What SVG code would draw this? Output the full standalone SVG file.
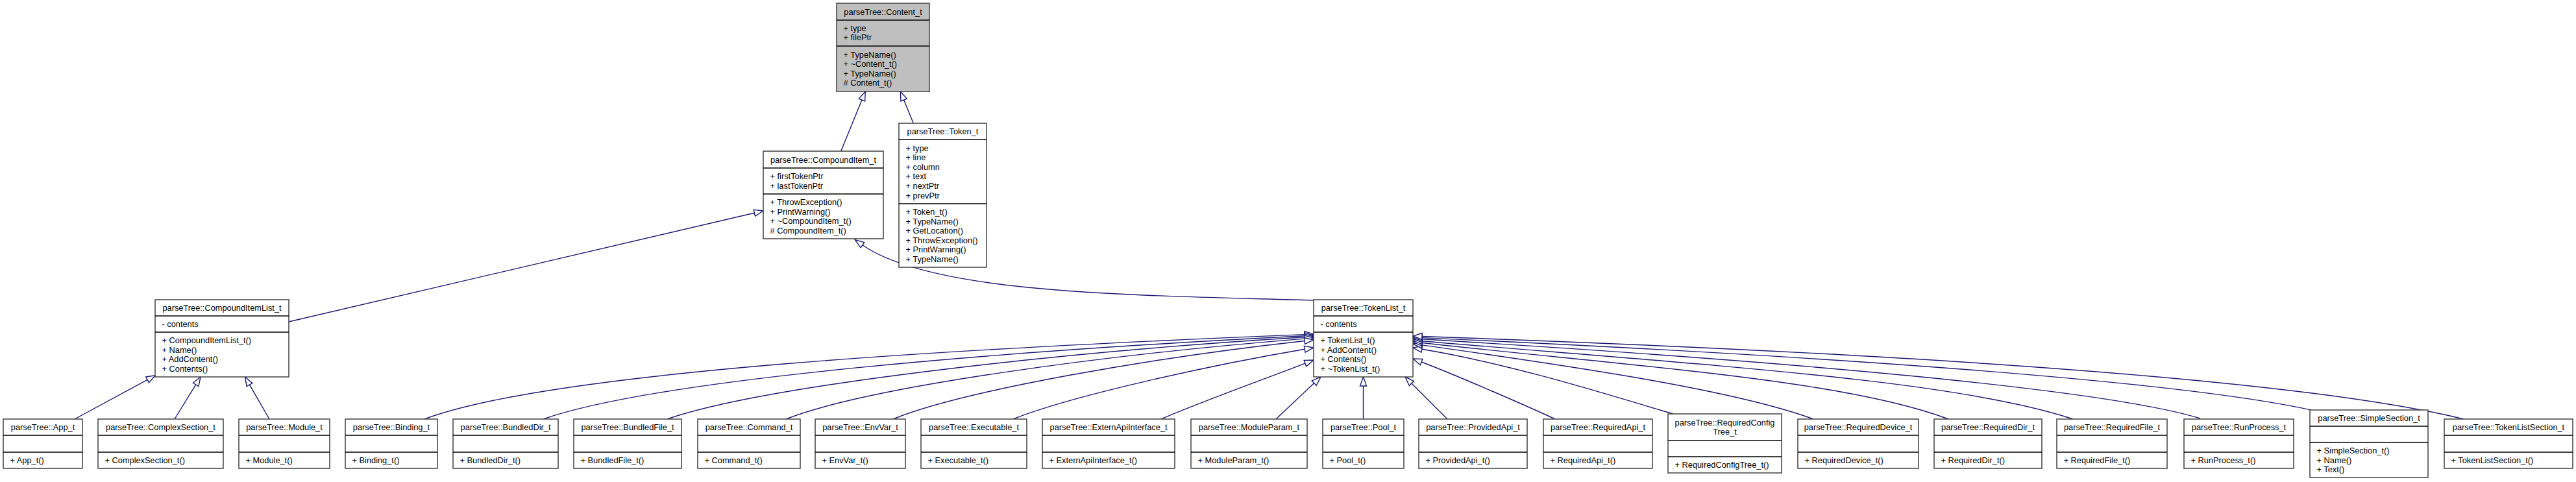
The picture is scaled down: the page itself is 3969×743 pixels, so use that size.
<svg xmlns="http://www.w3.org/2000/svg" width="3969" height="743" viewBox="0 0 3969 743">
<style>
.b{fill:#fff;stroke:#404040;stroke-width:1.5}
.g{fill:#bfbfbf;stroke:#404040;stroke-width:1.5}
.s{stroke:#000;stroke-width:1.3}
text{font-family:"Liberation Sans",Arial,Helvetica,sans-serif;font-size:12.8px;fill:#000}
.t{text-anchor:middle}
.e{fill:none;stroke:#191970;stroke-width:1.4;marker-end:url(#tri)}
</style>
<defs>
<marker id="tri" markerUnits="userSpaceOnUse" markerWidth="18" markerHeight="14" viewBox="-1 -7 18 14" refX="0" refY="0" orient="auto" overflow="visible">
<path d="M0,-5 L14,0 L0,5 Z" fill="#fff" stroke="#191970" stroke-width="1.4"/>
</marker>
</defs>
<rect width="3969" height="743" fill="#fff"/>

<g id="connectors">
<path class="e" d="M1295.7,233 L1328,154"/>
<path class="e" d="M1407.3,190 L1392.6,154"/>
<path class="e" d="M445,496 L1162.4,328.2"/>
<path class="e" d="M2026,463 C1760,455 1440,455 1328.9,377.8"/>
<path class="e" d="M115,646 L227.1,585.4"/>
<path class="e" d="M269,646 L301.7,592.9"/>
<path class="e" d="M415,646 L384.5,593.1"/>
<path class="e" d="M654,646 C854,570.6 1510,535.6 2010,515.6"/>
<path class="e" d="M837,646 C1017,583 1560.5,540.2 2010,517.7"/>
<path class="e" d="M1028,646 C1178,594 1630.7,542.6 2010,519.8"/>
<path class="e" d="M1211,646 C1341,595 1711,546 2010,522.1"/>
<path class="e" d="M1376,646 C1486,601 1781.5,550.6 2010.1,525.5"/>
<path class="e" d="M1561,646 C1651,610 1862.3,563.5 2010.2,538.3"/>
<path class="e" d="M1789,646 C1849,620 1955,581.8 2010.9,560.1"/>
<path class="e" d="M1966,646 L2024.8,590.6"/>
<path class="e" d="M2100.5,646 L2100.5,595"/>
<path class="e" d="M2230,646 L2174.9,590.9"/>
<path class="e" d="M2396,646 C2356,627.4 2246.2,579.3 2190.1,558"/>
<path class="e" d="M2578,638 C2498,615 2338.7,562.9 2190.8,538.3"/>
<path class="e" d="M2794,646 C2674,602 2438.5,566.7 2190.9,531.9"/>
<path class="e" d="M3002,646 C2842,586 2538.8,566.8 2190.9,528.5"/>
<path class="e" d="M3194,646 C3014,586 2639.4,563.8 2191,525.7"/>
<path class="e" d="M3390,645 C3240,599 2740,555.8 2191,522.8"/>
<path class="e" d="M3561,632 C3360,588 2840.4,549.9 2191,520.6"/>
<path class="e" d="M3796,646 C3546,585 2940.5,544.7 2191,518.5"/>
</g>

<g id="Content_t">
<rect class="g" x="1289" y="5" width="143" height="136"/>
<line class="s" x1="1289" y1="31" x2="1432" y2="31"/>
<line class="s" x1="1289" y1="71" x2="1432" y2="71"/>
<text class="t" x="1360.5" y="22.5">parseTree::Content_t</text>
<text x="1299.5" y="47.5">+ type</text>
<text x="1299.5" y="62.1">+ filePtr</text>
<text x="1299.5" y="88.6">+ TypeName()</text>
<text x="1299.5" y="103.2">+ ~Content_t()</text>
<text x="1299.5" y="117.8">+ TypeName()</text>
<text x="1299.5" y="132.4"># Content_t()</text>
</g>

<g id="CompoundItem_t">
<rect class="b" x="1176" y="233" width="185" height="135"/>
<line class="s" x1="1176" y1="259" x2="1361" y2="259"/>
<line class="s" x1="1176" y1="299" x2="1361" y2="299"/>
<text class="t" x="1268.5" y="250.5">parseTree::CompoundItem_t</text>
<text x="1186.5" y="276.2">+ firstTokenPtr</text>
<text x="1186.5" y="290.8">+ lastTokenPtr</text>
<text x="1186.5" y="316.1">+ ThrowException()</text>
<text x="1186.5" y="330.7">+ PrintWarning()</text>
<text x="1186.5" y="345.3">+ ~CompoundItem_t()</text>
<text x="1186.5" y="359.9"># CompoundItem_t()</text>
</g>

<g id="Token_t">
<rect class="b" x="1385" y="190" width="135" height="222"/>
<line class="s" x1="1385" y1="215" x2="1520" y2="215"/>
<line class="s" x1="1385" y1="314" x2="1520" y2="314"/>
<text class="t" x="1452.5" y="207">parseTree::Token_t</text>
<text x="1395.5" y="232.5">+ type</text>
<text x="1395.5" y="247.1">+ line</text>
<text x="1395.5" y="261.7">+ column</text>
<text x="1395.5" y="276.3">+ text</text>
<text x="1395.5" y="290.9">+ nextPtr</text>
<text x="1395.5" y="305.5">+ prevPtr</text>
<text x="1395.5" y="331">+ Token_t()</text>
<text x="1395.5" y="345.6">+ TypeName()</text>
<text x="1395.5" y="360.2">+ GetLocation()</text>
<text x="1395.5" y="374.8">+ ThrowException()</text>
<text x="1395.5" y="389.4">+ PrintWarning()</text>
<text x="1395.5" y="404">+ TypeName()</text>
</g>

<g id="CompoundItemList_t">
<rect class="b" x="239" y="462" width="206" height="119"/>
<line class="s" x1="239" y1="487" x2="445" y2="487"/>
<line class="s" x1="239" y1="512" x2="445" y2="512"/>
<text class="t" x="342" y="479">parseTree::CompoundItemList_t</text>
<text x="249.5" y="504">- contents</text>
<text x="249.5" y="529.1">+ CompoundItemList_t()</text>
<text x="249.5" y="543.7">+ Name()</text>
<text x="249.5" y="558.3">+ AddContent()</text>
<text x="249.5" y="572.9">+ Contents()</text>
</g>

<g id="TokenList_t">
<rect class="b" x="2024" y="462" width="153" height="119"/>
<line class="s" x1="2024" y1="487" x2="2177" y2="487"/>
<line class="s" x1="2024" y1="512" x2="2177" y2="512"/>
<text class="t" x="2100.5" y="479">parseTree::TokenList_t</text>
<text x="2034.5" y="504">- contents</text>
<text x="2034.5" y="529.1">+ TokenList_t()</text>
<text x="2034.5" y="543.7">+ AddContent()</text>
<text x="2034.5" y="558.3">+ Contents()</text>
<text x="2034.5" y="572.9">+ ~TokenList_t()</text>
</g>

<g id="App_t">
<rect class="b" x="5" y="646" width="122" height="76"/>
<line class="s" x1="5" y1="671" x2="127" y2="671"/><line class="s" x1="5" y1="697" x2="127" y2="697"/>
<text class="t" x="66" y="663">parseTree::App_t</text>
<text x="15.5" y="714">+ App_t()</text>
</g>

<g id="ComplexSection_t">
<rect class="b" x="151" y="646" width="193" height="76"/>
<line class="s" x1="151" y1="671" x2="344" y2="671"/><line class="s" x1="151" y1="697" x2="344" y2="697"/>
<text class="t" x="247.5" y="663">parseTree::ComplexSection_t</text>
<text x="161.5" y="714">+ ComplexSection_t()</text>
</g>

<g id="Module_t">
<rect class="b" x="368" y="646" width="140" height="76"/>
<line class="s" x1="368" y1="671" x2="508" y2="671"/><line class="s" x1="368" y1="697" x2="508" y2="697"/>
<text class="t" x="438" y="663">parseTree::Module_t</text>
<text x="378.5" y="714">+ Module_t()</text>
</g>

<g id="Binding_t">
<rect class="b" x="532" y="646" width="142" height="76"/>
<line class="s" x1="532" y1="671" x2="674" y2="671"/><line class="s" x1="532" y1="697" x2="674" y2="697"/>
<text class="t" x="603" y="663">parseTree::Binding_t</text>
<text x="542.5" y="714">+ Binding_t()</text>
</g>

<g id="BundledDir_t">
<rect class="b" x="698" y="646" width="162" height="76"/>
<line class="s" x1="698" y1="671" x2="860" y2="671"/><line class="s" x1="698" y1="697" x2="860" y2="697"/>
<text class="t" x="779" y="663">parseTree::BundledDir_t</text>
<text x="708.5" y="714">+ BundledDir_t()</text>
</g>

<g id="BundledFile_t">
<rect class="b" x="884" y="646" width="166" height="76"/>
<line class="s" x1="884" y1="671" x2="1050" y2="671"/><line class="s" x1="884" y1="697" x2="1050" y2="697"/>
<text class="t" x="967" y="663">parseTree::BundledFile_t</text>
<text x="894.5" y="714">+ BundledFile_t()</text>
</g>

<g id="Command_t">
<rect class="b" x="1075" y="646" width="158" height="76"/>
<line class="s" x1="1075" y1="671" x2="1233" y2="671"/><line class="s" x1="1075" y1="697" x2="1233" y2="697"/>
<text class="t" x="1154" y="663">parseTree::Command_t</text>
<text x="1085.5" y="714">+ Command_t()</text>
</g>

<g id="EnvVar_t">
<rect class="b" x="1256" y="646" width="139" height="76"/>
<line class="s" x1="1256" y1="671" x2="1395" y2="671"/><line class="s" x1="1256" y1="697" x2="1395" y2="697"/>
<text class="t" x="1325.5" y="663">parseTree::EnvVar_t</text>
<text x="1266.5" y="714">+ EnvVar_t()</text>
</g>

<g id="Executable_t">
<rect class="b" x="1419" y="646" width="163" height="76"/>
<line class="s" x1="1419" y1="671" x2="1582" y2="671"/><line class="s" x1="1419" y1="697" x2="1582" y2="697"/>
<text class="t" x="1500.5" y="663">parseTree::Executable_t</text>
<text x="1429.5" y="714">+ Executable_t()</text>
</g>

<g id="ExternApiInterface_t">
<rect class="b" x="1606" y="646" width="204" height="76"/>
<line class="s" x1="1606" y1="671" x2="1810" y2="671"/><line class="s" x1="1606" y1="697" x2="1810" y2="697"/>
<text class="t" x="1708" y="663">parseTree::ExternApiInterface_t</text>
<text x="1616.5" y="714">+ ExternApiInterface_t()</text>
</g>

<g id="ModuleParam_t">
<rect class="b" x="1835" y="646" width="179" height="76"/>
<line class="s" x1="1835" y1="671" x2="2014" y2="671"/><line class="s" x1="1835" y1="697" x2="2014" y2="697"/>
<text class="t" x="1924.5" y="663">parseTree::ModuleParam_t</text>
<text x="1845.5" y="714">+ ModuleParam_t()</text>
</g>

<g id="Pool_t">
<rect class="b" x="2038" y="646" width="125" height="76"/>
<line class="s" x1="2038" y1="671" x2="2163" y2="671"/><line class="s" x1="2038" y1="697" x2="2163" y2="697"/>
<text class="t" x="2100.5" y="663">parseTree::Pool_t</text>
<text x="2048.5" y="714">+ Pool_t()</text>
</g>

<g id="ProvidedApi_t">
<rect class="b" x="2186" y="646" width="167" height="76"/>
<line class="s" x1="2186" y1="671" x2="2353" y2="671"/><line class="s" x1="2186" y1="697" x2="2353" y2="697"/>
<text class="t" x="2269.5" y="663">parseTree::ProvidedApi_t</text>
<text x="2196.5" y="714">+ ProvidedApi_t()</text>
</g>

<g id="RequiredApi_t">
<rect class="b" x="2378" y="646" width="168" height="76"/>
<line class="s" x1="2378" y1="671" x2="2546" y2="671"/><line class="s" x1="2378" y1="697" x2="2546" y2="697"/>
<text class="t" x="2462" y="663">parseTree::RequiredApi_t</text>
<text x="2388.5" y="714">+ RequiredApi_t()</text>
</g>

<g id="RequiredConfigTree_t">
<rect class="b" x="2570" y="638" width="175" height="91"/>
<line class="s" x1="2570" y1="679" x2="2745" y2="679"/><line class="s" x1="2570" y1="704" x2="2745" y2="704"/>
<text class="t" x="2657.5" y="655.7">parseTree::RequiredConfig</text>
<text class="t" x="2657.5" y="670.3">Tree_t</text>
<text x="2580.5" y="721">+ RequiredConfigTree_t()</text>
</g>

<g id="RequiredDevice_t">
<rect class="b" x="2770" y="646" width="186" height="76"/>
<line class="s" x1="2770" y1="671" x2="2956" y2="671"/><line class="s" x1="2770" y1="697" x2="2956" y2="697"/>
<text class="t" x="2863" y="663">parseTree::RequiredDevice_t</text>
<text x="2780.5" y="714">+ RequiredDevice_t()</text>
</g>

<g id="RequiredDir_t">
<rect class="b" x="2980" y="646" width="166" height="76"/>
<line class="s" x1="2980" y1="671" x2="3146" y2="671"/><line class="s" x1="2980" y1="697" x2="3146" y2="697"/>
<text class="t" x="3063" y="663">parseTree::RequiredDir_t</text>
<text x="2990.5" y="714">+ RequiredDir_t()</text>
</g>

<g id="RequiredFile_t">
<rect class="b" x="3169" y="646" width="170" height="76"/>
<line class="s" x1="3169" y1="671" x2="3339" y2="671"/><line class="s" x1="3169" y1="697" x2="3339" y2="697"/>
<text class="t" x="3254" y="663">parseTree::RequiredFile_t</text>
<text x="3179.5" y="714">+ RequiredFile_t()</text>
</g>

<g id="RunProcess_t">
<rect class="b" x="3365" y="646" width="169" height="76"/>
<line class="s" x1="3365" y1="671" x2="3534" y2="671"/><line class="s" x1="3365" y1="697" x2="3534" y2="697"/>
<text class="t" x="3449.5" y="663">parseTree::RunProcess_t</text>
<text x="3375.5" y="714">+ RunProcess_t()</text>
</g>

<g id="SimpleSection_t">
<rect class="b" x="3559" y="632" width="182" height="104"/>
<line class="s" x1="3559" y1="657" x2="3741" y2="657"/><line class="s" x1="3559" y1="682" x2="3741" y2="682"/>
<text class="t" x="3650" y="649">parseTree::SimpleSection_t</text>
<text x="3569.5" y="698.9">+ SimpleSection_t()</text>
<text x="3569.5" y="713.5">+ Name()</text>
<text x="3569.5" y="728.1">+ Text()</text>
</g>

<g id="TokenListSection_t">
<rect class="b" x="3766" y="646" width="198" height="76"/>
<line class="s" x1="3766" y1="671" x2="3964" y2="671"/><line class="s" x1="3766" y1="697" x2="3964" y2="697"/>
<text class="t" x="3865" y="663">parseTree::TokenListSection_t</text>
<text x="3776.5" y="714">+ TokenListSection_t()</text>
</g>
</svg>
